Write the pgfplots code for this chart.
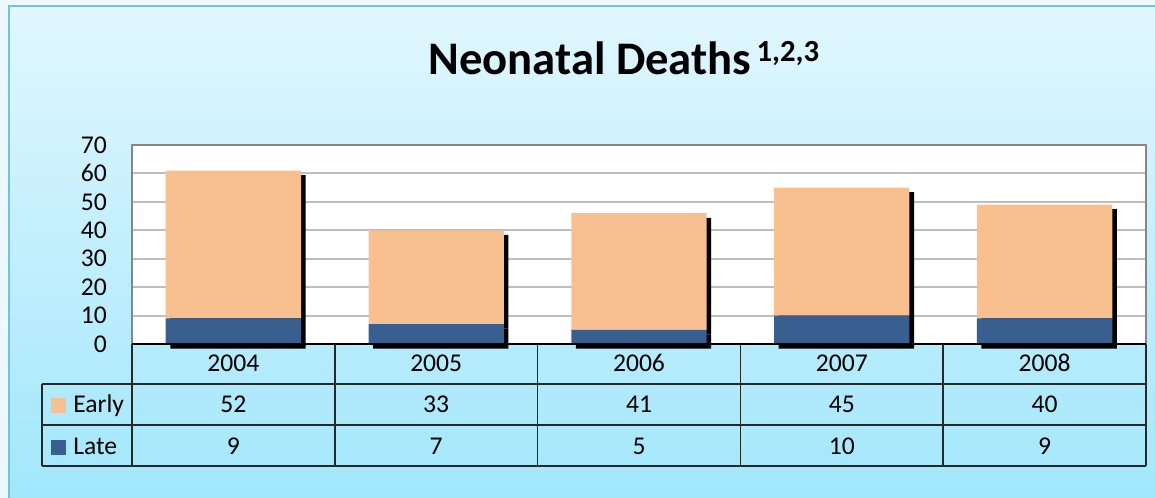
\documentclass[border=0pt]{standalone}
\usepackage{pgfplots}
\pgfplotsset{compat=1.18}
\usepackage{pgfplotstable}
\usepackage{fontspec}
\setmainfont{Carlito}

\definecolor{early}{RGB}{249,192,143}
\definecolor{late}{RGB}{56,95,144}
\definecolor{bgtop}{RGB}{225,247,254}
\definecolor{bgbot}{RGB}{162,231,252}
\definecolor{framec}{RGB}{110,195,225}
\definecolor{gridc}{RGB}{190,190,190}
\definecolor{plotframe}{RGB}{134,134,134}
\definecolor{tline}{RGB}{40,40,40}

% neonatal deaths by year
\pgfplotstableread{
x Early Late
0 52 9
1 33 7
2 41 5
3 45 10
4 40 9
}\deaths

\pgfplotsset{
  plotbox/.style={
    at={(99pt,115.5pt)}, anchor=south west,
    scale only axis, width=760.5pt, height=149.25pt,
    xmin=-0.5, xmax=4.5, ymin=0, ymax=70,
  },
}

\begin{document}
\begin{tikzpicture}[x=0.75pt,y=0.75pt,
  txt/.style={inner sep=0pt,font=\fontsize{19.2}{23}\selectfont}]
\useasboundingbox (0,0) rectangle (1155,498);
\fill[white!93!cyan] (0,0) rectangle (1155,498);
\shade[top color=bgtop,bottom color=bgbot] (9,0) rectangle (1155,492);
\draw[framec,line width=1.5pt] (9,-2) -- (9,492) -- (1157,492);

% grid + frame
\begin{axis}[plotbox,
  ytick={0,10,...,70}, xtick=\empty,
  ymajorgrids, major grid style={gridc,line width=1.5pt},
  axis line style={plotframe,line width=1.5pt},
  major tick length=0pt,
  axis background/.style={fill=white},
  yticklabel style={font=\fontsize{19.2}{23}\selectfont,anchor=east,inner sep=0pt,xshift=-18.75pt},
  /pgf/number format/assume math mode=true,
]
\end{axis}

% shadow
\begin{axis}[plotbox, at={(102.4pt,112.1pt)}, hide axis, ybar stacked, bar width=101.5pt]
\addplot[fill=black,draw=none] table[x=x,y=Late]{\deaths};
\addplot[fill=black,draw=none] table[x=x,y=Early]{\deaths};
\end{axis}

% bars
\begin{axis}[plotbox, hide axis, ybar stacked, bar width=101.5pt]
\addplot[fill=late,draw=none] table[x=x,y=Late]{\deaths};
\addplot[fill=early,draw=none] table[x=x,y=Early]{\deaths};
\end{axis}

% data table
\draw[tline,line width=1.3pt] (42,114) -- (1146,114) (42,73) -- (1146,73) (42,32) -- (1146,32);
\foreach \x in {132,334.8,537.6,740.4,943.2,1146}
  \draw[tline,line width=1.3pt] (\x,154) -- (\x,32);
\draw[tline,line width=1.3pt] (42,114) -- (42,32);
\draw[black,line width=1.6pt] (132,154) -- (1146,154);

\foreach \yr [count=\i from 0] in {2004,2005,2006,2007,2008}
  \node[txt,anchor=base] at ({233.4+202.8*\i},126) {\yr};
\foreach \v [count=\i from 0] in {52,33,41,45,40}
  \node[txt,anchor=base] at ({233.4+202.8*\i},85) {\v};
\foreach \v [count=\i from 0] in {9,7,5,10,9}
  \node[txt,anchor=base] at ({233.4+202.8*\i},43) {\v};

\fill[early] (51,85) rectangle (66,100);
\node[txt,anchor=base west] at (73,85) {Early};
\fill[late] (51,43) rectangle (66,58);
\node[txt,anchor=base west] at (73,43) {Late};

% title
\node[inner sep=0pt,anchor=base west] at (428,423)
  {\fontsize{35}{40}\selectfont\bfseries Neonatal Deaths\kern4pt\raisebox{9.75pt}{\fontsize{23}{23}\selectfont 1,2,3}};
\end{tikzpicture}
\end{document}
